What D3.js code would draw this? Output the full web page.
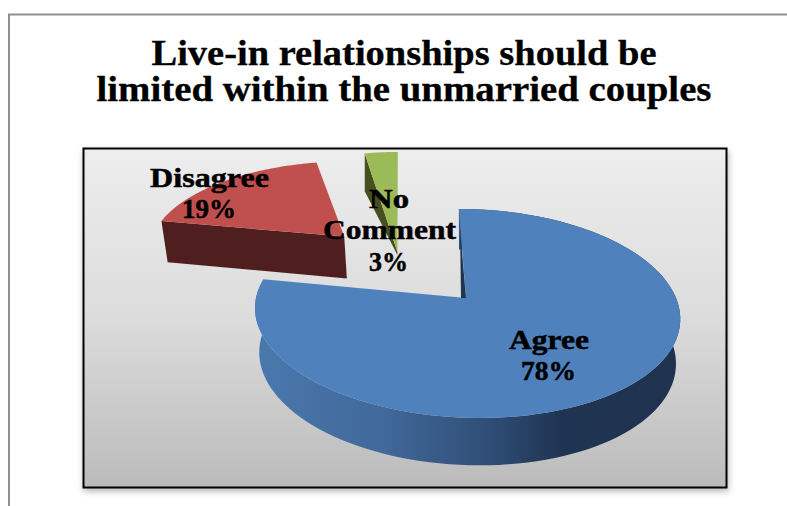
<!DOCTYPE html>
<html>
<head>
<meta charset="utf-8">
<script src="https://cdn.jsdelivr.net/npm/d3@7"></script>
<style>
  html, body { margin: 0; padding: 0; background: #fff; }
  svg { display: block; }
</style>
</head>
<body>
<svg id="chart" width="787" height="506"></svg>
<script>
const categories = ["Agree", "Disagree", "No Comment"];
const shares = [78, 19, 3];
const titleLines = ["Live-in relationships should be", "limited within the unmarried couples"];

const topColors = ["#4f81bd", "#c0504d", "#9bbb59"];
const wallColors = ["#1f3552", "#4f1f1f", "#454f20"];

// Where each slice sits on the tilted pie plane once pulled out of the pie.
const sliceLayout = [
  { ox: 0, oy: 0, radius: 1, widen: 1, shiftX: 0, shiftY: 0, apexDrop: 1, bend: 3.35, taper: 0.02 },
  { ox: -0.636, oy: 0.636, radius: 1, widen: 1, shiftX: 7, shiftY: -2, apexDrop: 1, bend: 0, taper: 0.02 },
  { ox: -0.472, oy: 0.483, radius: 1.33, widen: 0.8, shiftX: 29, shiftY: 0, apexDrop: 0.07, bend: 0, taper: 0 }
];

// Label lines: [text, centre x, baseline y, drawn width]
const labelLayout = [
  [["Agree", 549, 349, 80], ["78%", 548.5, 380, 55]],
  [["Disagree", 209.5, 187, 119], ["19%", 209, 218, 54]],
  [["No", 389, 208, 40], ["Comment", 389.5, 239, 133], ["3%", 388.5, 271, 39]]
];

const width = 787, height = 506;
const plot = { x: 83.5, y: 148.5, w: 643, h: 339 };
const view = { cx: 466, cy: 298, kx: 210, ky: 102.2, persp: 0.148, skew: 10.5 };

const svg = d3.select("#chart");
const defs = svg.append("defs");

const bg = defs.append("linearGradient").attr("id", "plotFill")
  .attr("x1", 0).attr("y1", 0).attr("x2", 0).attr("y2", 1);
bg.append("stop").attr("offset", 0).attr("stop-color", "#ededed");
bg.append("stop").attr("offset", 0.5).attr("stop-color", "#dcdcdc");
bg.append("stop").attr("offset", 1).attr("stop-color", "#bbbbbb");

const rimShade = defs.append("linearGradient").attr("id", "rimShade")
  .attr("gradientUnits", "userSpaceOnUse")
  .attr("x1", 254).attr("y1", 0).attr("x2", 680).attr("y2", 0);
[[0, "#4a78ae"], [0.3, "#41699a"], [0.55, "#2f4e76"], [0.72, "#1f3452"], [1, "#1f3350"]]
  .forEach(([o, c]) => rimShade.append("stop").attr("offset", o).attr("stop-color", c));

const shadow = defs.append("filter").attr("id", "boxShadow")
  .attr("x", "-5%").attr("y", "-5%").attr("width", "110%").attr("height", "110%");
shadow.append("feDropShadow").attr("dx", 1).attr("dy", 3).attr("stdDeviation", 3)
  .attr("flood-color", "#000").attr("flood-opacity", 0.28);

// Chart-area frame: only the top and left edges show inside the picture.
svg.append("path")
  .attr("d", `M9 ${height}V14.5H${width}`)
  .attr("fill", "none").attr("stroke", "#8f8f8f").attr("stroke-width", 2);

svg.append("rect")
  .attr("x", plot.x).attr("y", plot.y).attr("width", plot.w).attr("height", plot.h)
  .attr("fill", "url(#plotFill)").attr("stroke", "#000").attr("stroke-width", 2)
  .attr("filter", "url(#boxShadow)");

const textFont = "'Liberation Serif', serif";
svg.append("g").selectAll("text").data(titleLines).join("text")
  .attr("x", 404)
  .attr("y", (d, i) => 65 + i * 35.5)
  .attr("text-anchor", "middle")
  .attr("font-family", textFont)
  .attr("font-weight", 700)
  .attr("font-size", 35)
  .attr("fill", "#000")
  .attr("stroke", "#000")
  .attr("stroke-width", 0.3)
  .attr("textLength", (d, i) => [505, 615][i])
  .attr("lengthAdjust", "spacingAndGlyphs")
  .text(d => d);

// Perspective projection of a point on the pie plane; drop lowers it to the base.
function project(u, v, drop, s) {
  const den = 1 + view.persp * v;
  let x = view.kx * u / den - view.skew * v + s.bend * v * v;
  const y = -view.ky * v / den + drop * (44 - 3.4 * v);
  x *= 1 - s.taper * Math.min(drop, 1);
  return [view.cx + x, view.cy + y];
}

const arcs = d3.pie().sort(null).startAngle(0).endAngle(2 * Math.PI)(shares);

function rimPoint(i, a, frac, base) {
  const s = sliceLayout[i];
  const u = s.ox + Math.sin(a) * s.radius * s.widen * frac;
  const v = s.oy + Math.cos(a) * s.radius * frac;
  const [x, y] = project(u, v, base ? (frac === 0 ? s.apexDrop : 1) : 0, s);
  return [x + s.shiftX, y + s.shiftY];
}

function rimSamples(i, d, base) {
  return d3.range(0, 121).map(k => {
    const a = d.startAngle + (d.endAngle - d.startAngle) * k / 120;
    return rimPoint(i, a, 1, base);
  });
}

const poly = d3.line().curve(d3.curveLinear);
const g = svg.append("g");

// Round outer wall of the large slice, sitting under its top face.
g.append("path")
  .attr("d", poly([...rimSamples(0, arcs[0], false), ...rimSamples(0, arcs[0], true).reverse()]) + "Z")
  .attr("fill", "url(#rimShade)");

// Flat cut walls of the pulled-out slices.
[1, 2].forEach(i => {
  const a = arcs[i].startAngle;
  const wall = [rimPoint(i, a, 1, false), rimPoint(i, a, 0, false), rimPoint(i, a, 0, true), rimPoint(i, a, 1, true)];
  g.append("path").attr("d", poly(wall) + "Z").attr("fill", wallColors[i]);
});

// Top faces.
arcs.forEach((d, i) => {
  g.append("path")
    .attr("d", poly([rimPoint(i, 0, 0, false), ...rimSamples(i, d, false)]) + "Z")
    .attr("fill", topColors[i]);
});

// Sliver of the inner wall seen along the large slice's straight edge.
const apex = rimPoint(0, 0, 0, false);
const edgeAt = f => rimPoint(0, 0, f, false);
g.append("path")
  .attr("d", poly([edgeAt(0.75), apex, [apex[0] - 5, apex[1]]]) + "Z")
  .attr("fill", wallColors[0]);

// Data labels; each slice's category and share fill that slice's layout lines.
const labelText = categories.map((c, i) => [...c.split(" "), shares[i] + "%"]);
const labels = svg.append("g");
labelLayout.forEach((lines, i) => {
  lines.forEach((l, j) => {
    labels.append("text")
      .attr("x", l[1]).attr("y", l[2])
      .attr("text-anchor", "middle")
      .attr("font-family", textFont)
      .attr("font-weight", 700)
      .attr("font-size", 28)
      .attr("fill", "#000")
      .attr("stroke", "#000")
      .attr("stroke-width", 0.5)
      .attr("textLength", l[3])
      .attr("lengthAdjust", "spacingAndGlyphs")
      .text(labelText[i][j]);
  });
});
</script>
</body>
</html>
